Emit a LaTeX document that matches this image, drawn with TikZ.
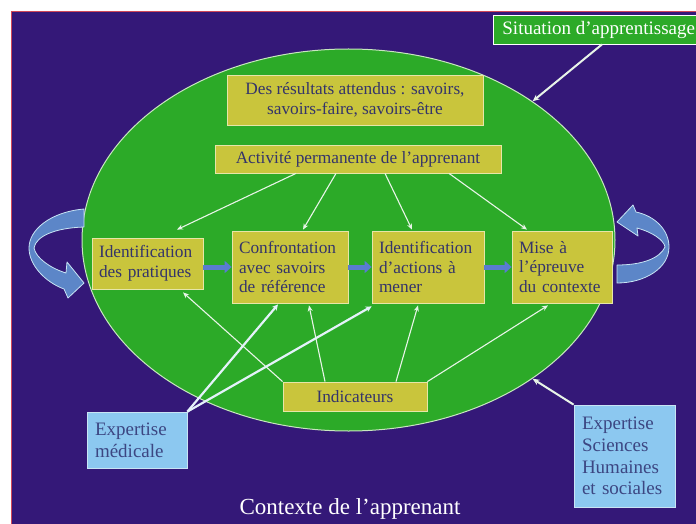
\documentclass[tikz,border=0pt]{standalone}
\usepackage{fontspec}
\setmainfont{Liberation Serif}
\usepackage{xcolor}
\usepackage{tikz}
\usetikzlibrary{arrows.meta,positioning,calc,shapes.geometric}
\definecolor{night}     {HTML}{341878}
\definecolor{field}     {HTML}{2CAA28}
\definecolor{fieldLn}   {HTML}{C8E6C0}
\definecolor{mustard}   {HTML}{C9C53C}
\definecolor{mustardLn} {HTML}{E6E6A8}
\definecolor{inkblue}   {HTML}{34346A}
\definecolor{skyink}    {HTML}{3C4682}
\definecolor{sky}       {HTML}{8CC8F0}
\definecolor{skyLn}     {HTML}{C8E4F4}
\definecolor{flowblue}  {HTML}{5A7CD0}
\definecolor{ribbonblue}{HTML}{5C86C8}
\definecolor{chalk}     {HTML}{E8F4E8}
\definecolor{frame}     {HTML}{D04858}

\begin{document}
\begin{tikzpicture}[
  x=1pt, y=-1pt,
  every node/.style={font=\fontsize{17.3}{19.5}\selectfont, text=inkblue},
  ctxell/.style={ellipse, draw=fieldLn, fill=field, line width=1pt, inner sep=0pt,
                 minimum width=533pt, minimum height=382pt},
  yb/.style={rectangle, draw=mustardLn, fill=mustard, line width=0.8pt, inner xsep=7pt, inner ysep=0pt},
  stepbx/.style={yb, align=left, minimum height=72pt},
  expbx/.style={rectangle, draw=skyLn, fill=sky, line width=0.8pt, align=left, inner xsep=8pt,
                font=\fontsize{19}{21.7}\selectfont, text=skyink},
  sitbx/.style={rectangle, draw=white, fill=field, line width=0.8pt, text=white, anchor=west,
                inner xsep=9pt, minimum height=29pt, font=\fontsize{19}{21}\selectfont},
  link/.style={draw=chalk, line width=1.1pt, -{Stealth[length=6pt,width=5pt]}},
  biglink/.style={draw=chalk, line width=2pt, -{Stealth[length=7pt,width=6pt]}},
  medlink/.style={draw=skyLn!50!white, line width=2.2pt, -{Stealth[length=6pt,width=6pt]}},
  flow/.style={draw=flowblue, line width=5pt, -{Triangle[length=7pt,width=12pt]}},
  ribbon/.style={fill=ribbonblue, draw=skyLn, line width=0.8pt, line join=round}
]
\useasboundingbox (0,0) rectangle (696,524);
\fill[white] (0,0) rectangle (696,524);
\fill[night] (11,11) rectangle (696,524);
\draw[frame, line width=0.8pt] (696,11) -- (11,11) -- (11,524);

\node[ctxell] (ctx) at (348.5,240) {};

\filldraw[ribbon] (84,209) .. controls (50,212) and (29,230) .. (29,248)
  .. controls (29,265) and (45,282) .. (64,289) -- (68,298) -- (84,283) -- (67,262) -- (66,273)
  .. controls (50,268) and (36,258) .. (34,248) .. controls (36,236) and (55,228) .. (84,227) -- cycle;
\filldraw[ribbon] (617,265) -- (617,283) .. controls (645,283) and (669,268) .. (669,247)
  .. controls (669,230) and (655,216) .. (636,212) -- (633,205) -- (617,222) -- (638,236) -- (637,228)
  .. controls (652,232) and (664,240) .. (665,247) .. controls (660,258) and (643,265) .. (617,265) -- cycle;

\node[sitbx] (sit) at (493,29.5) {Situation d'apprentissage};
\node[yb, align=center, minimum width=256pt, minimum height=50pt] (res) at (355,100)
  {Des résultats attendus : savoirs,\\ savoirs-faire, savoirs-être};
\node[yb, minimum width=286pt, minimum height=28pt] (act) at (358,159) {Activité permanente de l'apprenant};

\node[stepbx, text width=97pt, minimum height=51pt] (b1) at (147.5,263.5) {Identification\\ des pratiques};
\node[stepbx, text width=102pt] (b2) at (290,267) {Confrontation\\ avec savoirs\\ de référence};
\node[stepbx, text width=98pt] (b3) at (428,267) {Identification\\ d'actions à\\ mener};
\node[stepbx, text width=86pt] (b4) at (562,267) {Mise à\\ l'épreuve\\ du contexte};

\node[yb, minimum width=144pt, minimum height=29pt] (ind) at (355,396.5) {Indicateurs};
\node[expbx, text width=84pt, minimum height=56pt] (med) at (137,440) {Expertise\\ médicale};
\node[expbx, text width=85pt, minimum height=102pt] (shs) at (624.5,456) {Expertise\\ Sciences\\ Humaines\\ et sociales};
\node[font=\fontsize{23}{26}\selectfont, text=white, anchor=base] (ttl) at (350,514) {Contexte de l'apprenant};

\draw[flow] (b1.east |- b2.west) -- (b2.west);
\draw[flow] (b2.east) -- (b3.west);
\draw[flow] (b3.east) -- (b4.west);

\draw[link] ([xshift=-62pt]act.south) -- ([xshift=29.5pt,yshift=8pt]b1.north);
\draw[link] ([xshift=-22pt]act.south) -- ([xshift=13pt,yshift=1pt]b2.north);
\draw[link] ([xshift=27pt]act.south) -- ([xshift=-16pt,yshift=1pt]b3.north);
\draw[link] ([xshift=91pt]act.south) -- ([xshift=-35pt,yshift=1pt]b4.north);

\draw[link] (ind.north west) -- ([xshift=35.5pt,yshift=-3pt]b1.south);
\draw[link] ([xshift=-30pt]ind.north) -- ([xshift=19pt,yshift=-2pt]b2.south);
\draw[link] ([xshift=41pt]ind.north) -- ([xshift=-10pt,yshift=-2pt]b3.south);
\draw[link] (ind.north east) -- ([xshift=-14pt,yshift=-2pt]b4.south);

\draw[medlink] (med.north east) -- ([xshift=-12pt,yshift=-1pt]b2.south);
\draw[medlink] (med.north east) -- ([yshift=-3pt]b3.south west);

\draw[biglink] ([xshift=109pt]sit.south west) -- (ctx.37);
\draw[biglink] (shs.north west) -- (ctx.-37);
\end{tikzpicture}
\end{document}
